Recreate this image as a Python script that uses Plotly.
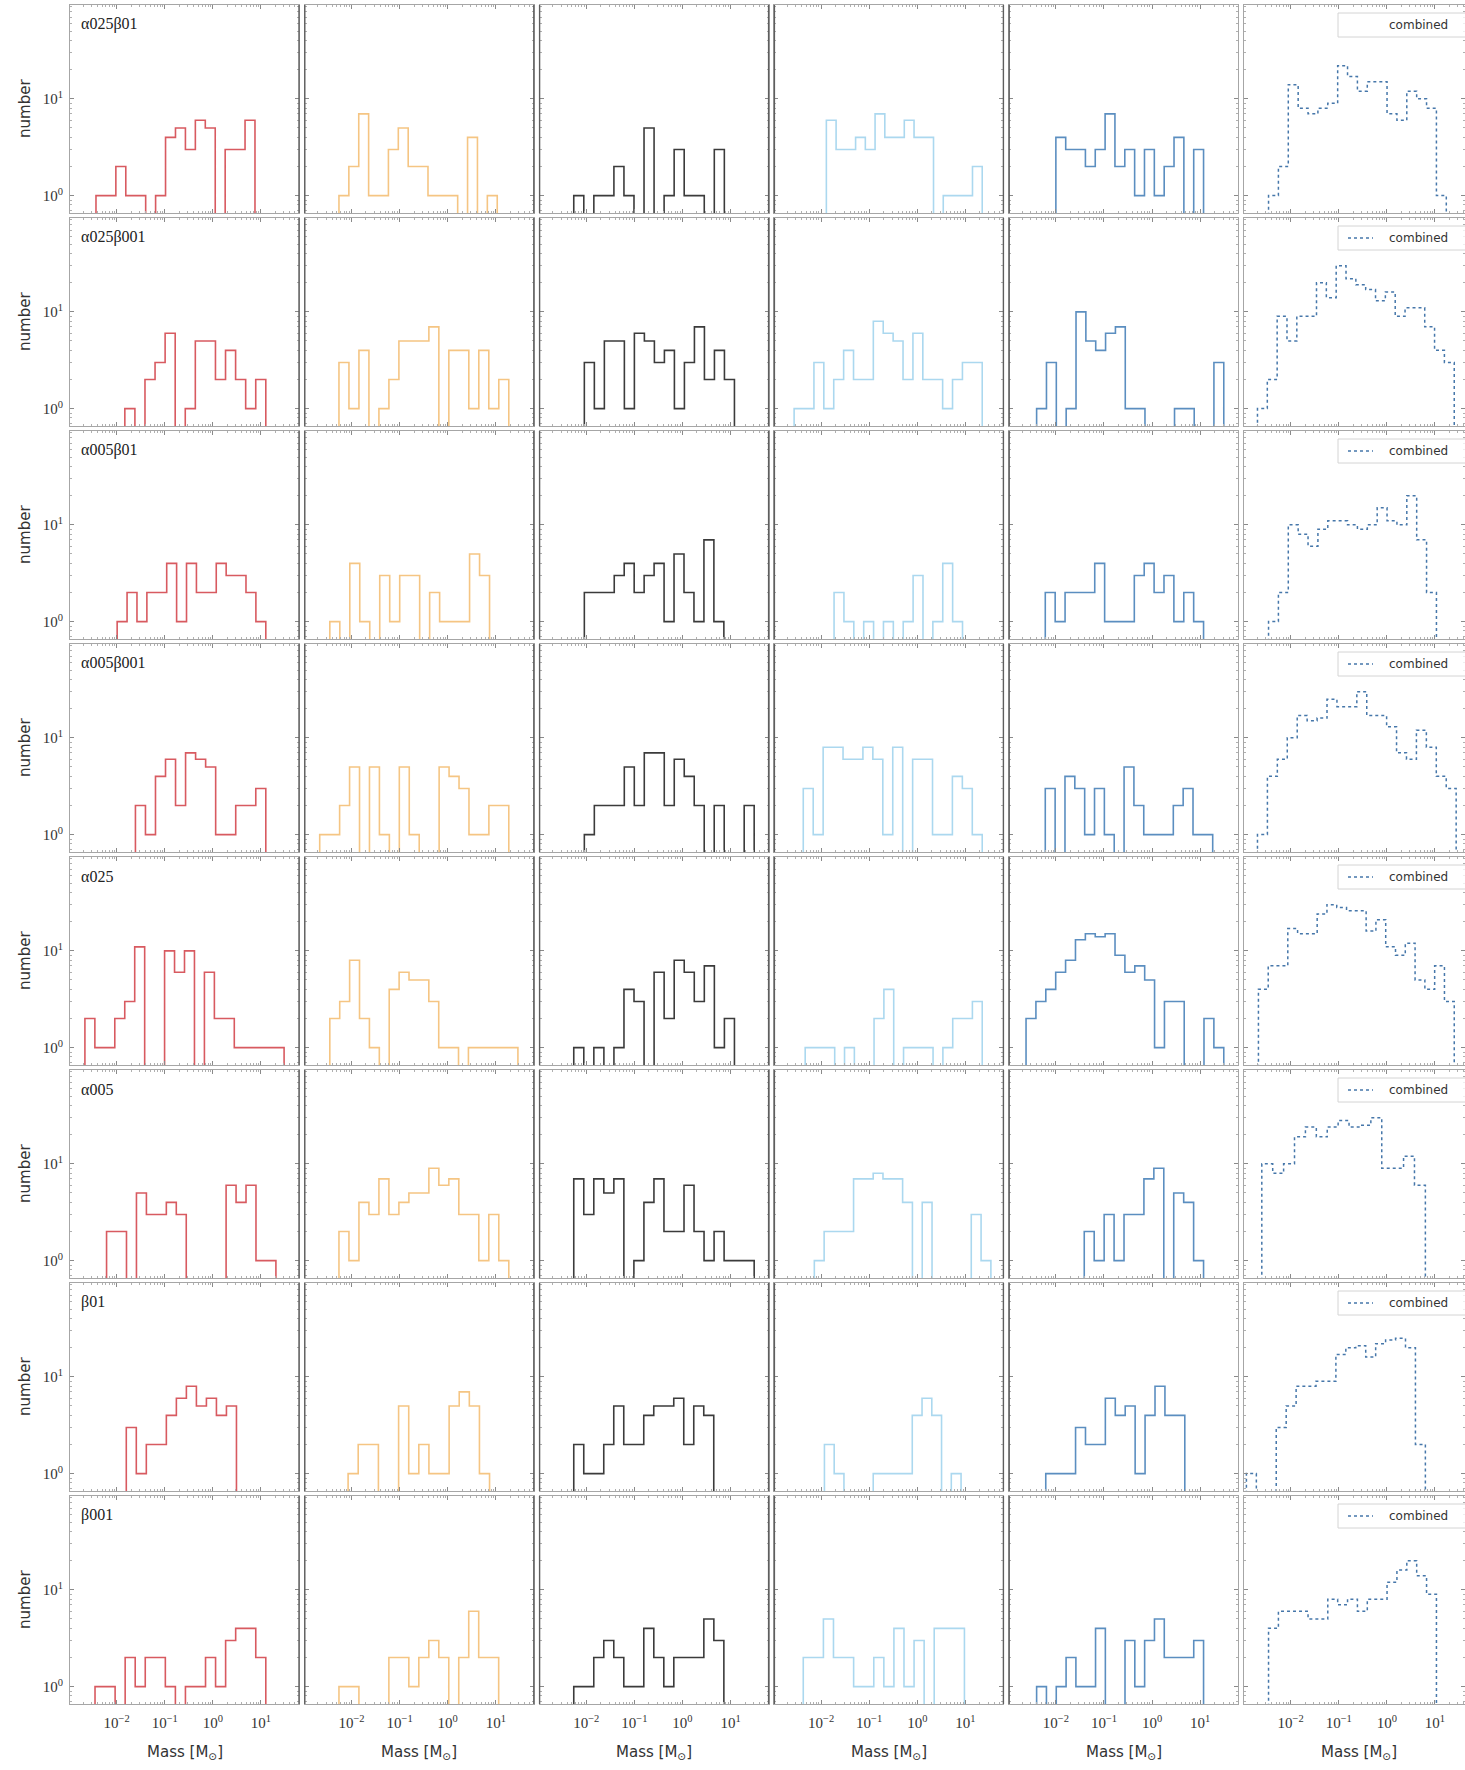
import numpy as np
import plotly.graph_objects as go

# Mass distributions (log-binned step histograms) for eight runs.
# Columns: five mass groups and their combined distribution.
ROW_NAMES = ["α025β01", "α025β001", "α005β01", "α005β001", "α025", "α005", "β01", "β001"]
GROUP_COLORS = ["#d85a60", "#f5c583", "#3b3b3b", "#abd8ef", "#5b8ec0"]
COMBINED_COLOR = "#4677aa"

# For every run: log10 of the first / last bin edge per column, and counts per bin.
LO_a025b01 = [-2.43, -2.26, -2.26, -1.89, -2.00, -2.46]
HI_a025b01 = [0.875, 1.03, 0.87, 1.35, 1.07, 1.235]
N_a025b01 = [
    [1, 1, 2, 1, 1, 0, 1, 4, 5, 3, 6, 5, 0, 3, 3, 6],
    [1, 2, 7, 1, 1, 3, 5, 2, 2, 1, 1, 1, 0, 4, 0, 1],
    [1, 0, 1, 1, 2, 1, 0, 5, 0, 1, 3, 1, 1, 0, 3],
    [6, 3, 3, 4, 3, 7, 4, 4, 6, 4, 4, 0, 1, 1, 1, 2],
    [4, 3, 3, 2, 3, 7, 2, 3, 1, 3, 1, 2, 4, 0, 3],
    [1, 2, 14, 8, 7, 8, 9, 22, 17, 12, 15, 15, 7, 6, 12, 10, 8, 1],
]

LO_a025b001 = [-1.83, -2.26, -2.04, -2.56, -2.40, -2.69]
HI_a025b001 = [1.10, 1.27, 1.08, 1.35, 1.49, 1.40]
N_a025b001 = [
    [1, 0, 2, 3, 6, 0, 1, 5, 5, 2, 4, 2, 1, 2],
    [3, 1, 4, 0, 1, 2, 5, 5, 5, 7, 0, 4, 4, 1, 4, 1, 2],
    [3, 1, 5, 5, 1, 6, 5, 3, 4, 1, 3, 7, 2, 4, 2],
    [1, 1, 3, 1, 2, 4, 2, 2, 8, 6, 5, 2, 6, 2, 2, 1, 2, 3, 3],
    [1, 3, 0, 1, 10, 5, 4, 6, 7, 1, 1, 0, 0, 0, 1, 1, 0, 0, 3],
    [1, 2, 9, 5, 9, 9, 20, 14, 30, 22, 19, 17, 13, 16, 9, 11, 11, 7, 4, 3],
]

LO_a005b01 = [-1.99, -2.45, -2.04, -1.73, -2.22, -2.46]
HI_a005b01 = [1.10, 0.87, 0.86, 0.94, 1.07, 1.03]
N_a005b01 = [
    [1, 2, 1, 2, 2, 4, 1, 4, 2, 2, 4, 3, 3, 2, 1],
    [1, 0, 4, 1, 0, 3, 1, 3, 3, 0, 2, 1, 1, 1, 5, 3],
    [2, 2, 2, 3, 4, 2, 3, 4, 1, 5, 2, 1, 7, 1],
    [2, 1, 0, 1, 0, 1, 0, 1, 3, 0, 1, 4, 1],
    [2, 1, 2, 2, 2, 4, 1, 1, 1, 3, 4, 2, 3, 1, 2, 1],
    [1, 2, 10, 8, 6, 9, 11, 11, 10, 9, 10, 15, 11, 10, 20, 7, 2],
]

LO_a005b001 = [-1.61, -2.66, -2.04, -2.37, -2.22, -2.69]
HI_a005b001 = [1.10, 1.27, 1.49, 1.35, 1.26, 1.44]
N_a005b001 = [
    [2, 1, 4, 6, 2, 7, 6, 5, 1, 1, 2, 2, 3],
    [1, 1, 2, 5, 0, 5, 1, 0, 5, 1, 0, 0, 5, 4, 3, 1, 1, 2, 2],
    [1, 2, 2, 2, 5, 2, 7, 7, 2, 6, 4, 2, 0, 2, 0, 0, 2],
    [3, 1, 8, 8, 6, 6, 8, 6, 1, 8, 0, 6, 6, 1, 1, 4, 3, 1],
    [3, 0, 4, 3, 1, 3, 1, 0, 5, 2, 1, 1, 1, 2, 3, 1, 1],
    [1, 4, 6, 10, 17, 15, 16, 25, 21, 21, 30, 17, 17, 13, 7, 6, 12, 8, 4, 3],
]

LO_a025 = [-2.66, -2.45, -2.26, -2.33, -2.62, -2.67]
HI_a025 = [1.48, 1.46, 1.08, 1.35, 1.49, 1.40]
N_a025 = [
    [2, 1, 1, 2, 3, 11, 0, 0, 10, 6, 10, 0, 6, 2, 2, 1, 1, 1, 1, 1],
    [2, 3, 8, 2, 1, 0, 4, 6, 5, 5, 3, 1, 1, 0, 1, 1, 1, 1, 1],
    [1, 0, 1, 0, 1, 4, 3, 0, 6, 2, 8, 6, 3, 7, 1, 2],
    [1, 1, 1, 0, 1, 0, 0, 2, 4, 0, 1, 1, 1, 0, 1, 2, 2, 3],
    [2, 3, 4, 6, 8, 13, 15, 14, 15, 9, 6, 7, 5, 1, 3, 3, 0, 0, 2, 1],
    [4, 7, 7, 17, 15, 15, 24, 30, 28, 26, 26, 16, 21, 11, 9, 12, 5, 4, 7, 3],
]

LO_a005 = [-2.21, -2.26, -2.26, -2.14, -1.41, -2.60]
HI_a005 = [1.31, 1.27, 1.49, 1.53, 1.07, 0.80]
N_a005 = [
    [2, 2, 0, 5, 3, 3, 4, 3, 0, 0, 0, 0, 6, 4, 6, 1, 1],
    [2, 1, 4, 3, 7, 3, 4, 5, 5, 9, 6, 7, 3, 3, 1, 3, 1],
    [7, 3, 7, 5, 7, 0, 1, 4, 7, 2, 2, 6, 2, 1, 2, 1, 1, 1],
    [1, 2, 2, 2, 7, 7, 8, 7, 7, 4, 0, 4, 0, 0, 0, 0, 3, 1],
    [2, 1, 3, 1, 3, 3, 7, 9, 0, 5, 4, 1],
    [10, 8, 10, 19, 24, 19, 24, 28, 24, 25, 30, 9, 9, 12, 6],
]

LO_b01 = [-1.80, -2.07, -2.26, -1.93, -2.21, -2.92]
HI_b01 = [0.49, 0.87, 0.65, 0.91, 0.68, 0.80]
N_b01 = [
    [3, 1, 2, 2, 4, 6, 8, 5, 6, 4, 5],
    [1, 2, 2, 0, 0, 5, 1, 2, 1, 1, 5, 7, 5, 1],
    [2, 1, 1, 2, 5, 2, 2, 4, 5, 5, 6, 2, 5, 4],
    [2, 1, 0, 0, 0, 1, 1, 1, 1, 4, 6, 4, 0, 1],
    [1, 1, 1, 3, 2, 2, 6, 4, 5, 1, 4, 8, 4, 4],
    [1, 0, 0, 3, 5, 8, 8, 9, 9, 17, 20, 21, 16, 22, 24, 25, 20, 2],
]

LO_b001 = [-2.45, -2.26, -2.26, -2.37, -2.40, -2.46]
HI_b001 = [1.10, 1.06, 0.86, 0.98, 1.07, 1.03]
N_b001 = [
    [1, 1, 0, 2, 1, 2, 2, 1, 0, 1, 1, 2, 1, 3, 4, 4, 2],
    [1, 1, 0, 0, 0, 2, 2, 1, 2, 3, 2, 0, 2, 6, 2, 2],
    [1, 1, 2, 3, 2, 1, 1, 4, 2, 1, 2, 2, 2, 5, 3],
    [2, 2, 5, 2, 2, 1, 1, 2, 1, 4, 1, 3, 0, 4, 4, 4],
    [1, 0, 1, 2, 1, 1, 4, 0, 0, 3, 1, 3, 5, 2, 2, 2, 3],
    [4, 6, 6, 6, 5, 5, 8, 7, 8, 6, 8, 8, 12, 16, 20, 14, 9],
]

RUNS = [
    (LO_a025b01, HI_a025b01, N_a025b01),
    (LO_a025b001, HI_a025b001, N_a025b001),
    (LO_a005b01, HI_a005b01, N_a005b01),
    (LO_a005b001, HI_a005b001, N_a005b001),
    (LO_a025, HI_a025, N_a025),
    (LO_a005, HI_a005, N_a005),
    (LO_b01, HI_b01, N_b01),
    (LO_b001, HI_b001, N_b001),
]

X_TICKS = [1e-2, 1e-1, 1.0, 10.0]
X_TICKTEXT = ["10<sup>−2</sup>", "10<sup>−1</sup>", "10<sup>0</sup>", "10<sup>1</sup>"]
Y_TICKS = [1.0, 10.0]
Y_TICKTEXT = ["10<sup>0</sup>", "10<sup>1</sup>"]

# ---- page geometry (pixels) ----
W, H = 1465, 1770
COL_LEFT = [70 + 234.8 * k for k in range(6)]
COL_W = 229.0
ROW_TOP = [5 + 213.0 * k for k in range(8)]
ROW_H = 208.0
X_RANGE = [-2.97, 1.79]
Y_RANGE = [-0.18, 1.97]
FLOOR = 1e-3  # empty bins drop below the axis

SERIF = "Liberation Serif"
SANS = "DejaVu Sans"


def px_x(v):
    return v / W


def px_y(v):
    return 1 - v / H


def step_outline(lo, hi, counts):
    edges = 10 ** np.linspace(lo, hi, len(counts) + 1)
    xs, ys = [edges[0]], [FLOOR]
    for i, c in enumerate(counts):
        v = c if c > 0 else FLOOR
        xs += [edges[i], edges[i + 1]]
        ys += [v, v]
    xs.append(edges[-1])
    ys.append(FLOOR)
    return xs, ys


x_minor = [m * 10.0 ** e for e in range(-3, 2) for m in range(2, 10)]
y_minor = [m * 10.0 ** e for e in range(-1, 2) for m in range(2, 10)]

fig = go.Figure()
layout = dict(
    width=W, height=H,
    margin=dict(l=0, r=0, t=0, b=0, autoexpand=False),
    paper_bgcolor="white", plot_bgcolor="white",
    showlegend=False,
)
shapes, annotations = [], []

for r, (lo_list, hi_list, counts_list) in enumerate(RUNS):
    top = ROW_TOP[r]
    bottom = top + ROW_H
    for c in range(6):
        idx = r * 6 + c + 1
        xa = "x" if idx == 1 else f"x{idx}"
        ya = "y" if idx == 1 else f"y{idx}"
        left = COL_LEFT[c]
        right = min(left + COL_W, W)
        xr = list(X_RANGE)
        if right < left + COL_W:
            xr[1] = X_RANGE[0] + (X_RANGE[1] - X_RANGE[0]) * (right - left) / COL_W

        common = dict(
            type="log", showline=True, linecolor="#a6a6a6", linewidth=1,
            mirror="allticks", ticks="inside", ticklen=4, tickwidth=1,
            tickcolor="#8a8a8a", showgrid=False, zeroline=False,
            tickmode="array",
            tickfont=dict(family=SERIF, size=15, color="#333333"),
        )
        layout["xaxis" if idx == 1 else f"xaxis{idx}"] = dict(
            common,
            domain=[px_x(left), px_x(right)], anchor=ya, range=xr,
            tickvals=X_TICKS, ticktext=X_TICKTEXT,
            showticklabels=(r == 7), ticklabelstandoff=5,
            minor=dict(tickmode="array", tickvals=x_minor, ticks="inside",
                       ticklen=2, tickcolor="#b0b0b0", showgrid=False),
        )
        layout["yaxis" if idx == 1 else f"yaxis{idx}"] = dict(
            common,
            domain=[px_y(bottom), px_y(top)], anchor=xa, range=Y_RANGE,
            tickvals=Y_TICKS, ticktext=Y_TICKTEXT,
            showticklabels=(c == 0), ticklabelstandoff=3,
            minor=dict(tickmode="array", tickvals=y_minor, ticks="inside",
                       ticklen=2, tickcolor="#b0b0b0", showgrid=False),
        )

        xs, ys = step_outline(lo_list[c], hi_list[c], counts_list[c])
        if c < 5:
            line = dict(color=GROUP_COLORS[c], width=1.6)
        else:
            line = dict(color=COMBINED_COLOR, width=1.5, dash="dot")
        fig.add_trace(go.Scatter(x=xs, y=ys, mode="lines", line=line,
                                 xaxis=xa, yaxis=ya, hoverinfo="skip"))

        # darker frame edges between neighbouring group panels
        if c <= 3:
            shapes.append(dict(type="line", xref="paper", yref="paper",
                               x0=px_x(right), x1=px_x(right),
                               y0=px_y(bottom), y1=px_y(top),
                               line=dict(color="#5e5e5e", width=1.4)))
        if 1 <= c <= 4:
            shapes.append(dict(type="line", xref="paper", yref="paper",
                               x0=px_x(left), x1=px_x(left),
                               y0=px_y(bottom), y1=px_y(top),
                               line=dict(color="#5e5e5e", width=1.4)))

    # run label
    annotations.append(dict(
        text=ROW_NAMES[r], xref="paper", yref="paper",
        x=px_x(COL_LEFT[0] + 9), y=px_y(top + 19),
        xanchor="left", yanchor="middle", showarrow=False,
        font=dict(family=SERIF, size=16, color="#222222"),
    ))
    # y-axis title
    annotations.append(dict(
        text="number", xref="paper", yref="paper",
        x=px_x(25), y=px_y(top + ROW_H / 2), textangle=-90,
        xanchor="center", yanchor="middle", showarrow=False,
        font=dict(family=SANS, size=15, color="#333333"),
    ))
    # legend of the combined panel
    shapes.append(dict(type="rect", xref="paper", yref="paper",
                       x0=px_x(1338), x1=px_x(1490),
                       y0=px_y(top + 32), y1=px_y(top + 8),
                       line=dict(color="#d4d4d4", width=1),
                       fillcolor="rgba(255,255,255,0.8)"))
    if r > 0:
        shapes.append(dict(type="line", xref="paper", yref="paper",
                           x0=px_x(1348), x1=px_x(1373),
                           y0=px_y(top + 20), y1=px_y(top + 20),
                           line=dict(color=COMBINED_COLOR, width=1.5, dash="dot")))
    annotations.append(dict(
        text="combined", xref="paper", yref="paper",
        x=px_x(1387), y=px_y(top + 20), xanchor="left", yanchor="middle",
        showarrow=False, font=dict(family=SANS, size=12, color="#333333"),
    ))

# x-axis titles
for c in range(6):
    centre = COL_LEFT[c] + COL_W / 2
    annotations.append(dict(
        text="Mass [M<sub>⊙</sub>]", xref="paper", yref="paper",
        x=px_x(centre), y=px_y(1752), xanchor="center", yanchor="middle",
        showarrow=False, font=dict(family=SANS, size=15, color="#333333"),
    ))

layout["shapes"] = shapes
layout["annotations"] = annotations
fig.update_layout(**layout)
fig.write_html("out.html")
